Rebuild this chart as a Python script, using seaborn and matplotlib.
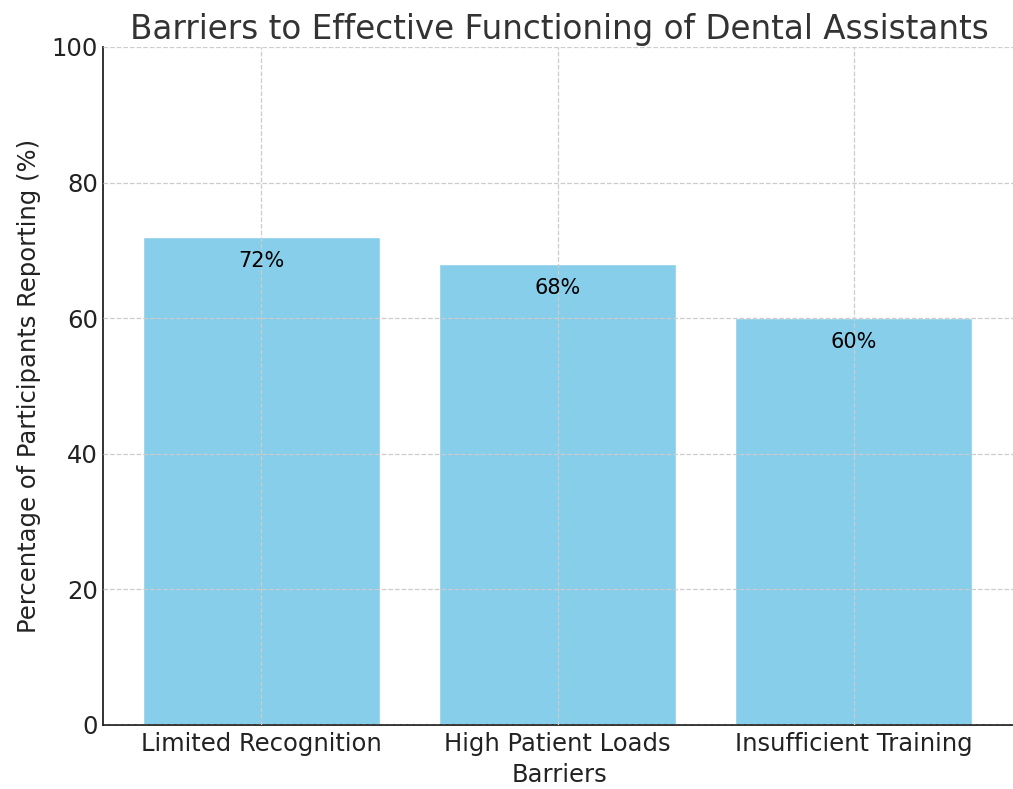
import matplotlib
matplotlib.use("Agg")
import matplotlib.pyplot as plt
import seaborn as sns
import pandas as pd

categories = ["Limited Recognition", "High Patient Loads", "Insufficient Training"]
values = [72, 68, 60]
y_ticks = [0, 20, 40, 60, 80, 100]

df = pd.DataFrame({"Barriers": categories, "Percentage": values})

sns.set_style("white")
plt.rcParams['font.family'] = ['DejaVu Sans']

fig = plt.figure(figsize=(10.13, 7.89), dpi=100)
ax = fig.add_axes([103/1013, (789-725)/789, (1015-103)/1013, (725-47)/789])

sns.barplot(data=df, x="Barriers", y="Percentage", color="skyblue", saturation=1,
            width=0.8, ax=ax)
ax.set_xlim(-0.535, 2.545)
ax.set_ylim(0, 100)
ax.set_yticks(y_ticks)

for i, v in enumerate(values):
    ax.text(i, v - 5, f"{v}%", ha="center", va="bottom", fontsize=15, color="black")

ax.set_axisbelow(False)
ax.grid(True, linestyle="--", color="#cccccc", linewidth=0.9)
for s in ["top", "right"]:
    ax.spines[s].set_visible(False)
for s in ["left", "bottom"]:
    ax.spines[s].set_color("#222222")
    ax.spines[s].set_linewidth(1.3)

ax.tick_params(axis="both", direction="in", labelsize=17.5, colors="#222222", length=6, width=1.2)
ax.tick_params(axis="x", pad=5)
ax.set_title("Barriers to Effective Functioning of Dental Assistants", fontsize=23.5, color="#333333", pad=6)
ax.set_xlabel("Barriers", fontsize=17.5, color="#222222", labelpad=5)
ax.set_ylabel("Percentage of Participants Reporting (%)", fontsize=17.5, color="#222222", labelpad=8)

fig.savefig("out.png", dpi=100)
